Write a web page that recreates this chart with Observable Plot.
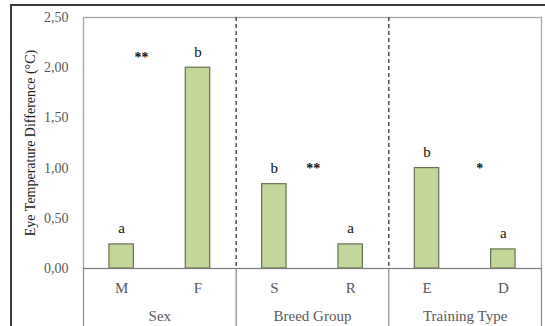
<!DOCTYPE html>
<html>
<head>
<meta charset="utf-8">
<script src="https://cdn.jsdelivr.net/npm/d3@7"></script>
<script src="https://cdn.jsdelivr.net/npm/@observablehq/plot@0.6"></script>
<style>
  html, body { margin: 0; padding: 0; background: #fff; }
  #wrap { position: relative; width: 545px; height: 326px; overflow: hidden; }
  #outer { position: absolute; left: 10px; top: 4px; right: -4px; bottom: -4px; border-top: 2px solid #3a3a3a; border-left: 2px solid #3a3a3a; }
  #chart { position: absolute; left: 0; top: 0; }
</style>
</head>
<body>
<div id="wrap"><div id="outer"></div><div id="chart"></div></div>
<script>
// Data
const categories = ["M", "F", "S", "R", "E", "D"];
const values = [0.24, 2.0, 0.84, 0.24, 1.0, 0.19];
const letters = ["a", "b", "b", "a", "b", "a"];
const groups = ["Sex", "Breed Group", "Training Type"];
const groupBounds = [2, 4];
const stars = ["**", "**", "*"];
const starX = [0.76, 3.01, 5.19];
const starY = [2.1, 1.0, 1.0];
const yTicks = [0, 0.5, 1.0, 1.5, 2.0, 2.5];
const yTitle = "Eye Temperature Difference (°C)";

const bars = categories.map((c, i) => ({cat: c, pos: i + 0.5, value: values[i], letter: letters[i]}));
const groupData = groups.map((g, i) => ({name: g, pos: i * 2 + 1}));
const starData = stars.map((s, i) => ({label: s, x: starX[i], y: starY[i]}));
const half = 0.16;

const font = "'Liberation Serif', 'Times New Roman', serif";

const chart = Plot.plot({
  width: 545,
  height: 326,
  marginLeft: 83,
  marginRight: 4,
  marginTop: 17,
  marginBottom: 58,
  style: {fontFamily: font, background: "transparent", overflow: "visible"},
  x: {domain: [0, 6], axis: null},
  y: {domain: [0, 2.5], axis: null},
  marks: [
    Plot.frame({stroke: "#a6a6a6", strokeWidth: 1.3}),
    Plot.ruleX(groupBounds, {stroke: "#333", strokeDasharray: "4,3", strokeWidth: 1.3}),
    Plot.ruleX([0, ...groupBounds, 6], {stroke: "#8a8a8a", strokeWidth: 1.2, insetTop: 251, insetBottom: -60}),
    Plot.rectY(bars, {x1: d => d.pos - half, x2: d => d.pos + half, y: "value", fill: "#c4d79b", stroke: "#66704f", strokeWidth: 1.2}),
    Plot.ruleY([0], {stroke: "#7a7a7a", strokeWidth: 1.2}),
    Plot.text(yTicks, {x: 0, y: d => d, text: d => d.toFixed(2).replace(".", ","), textAnchor: "end", dx: -15, fill: "#595959", fontSize: 14}),
    Plot.text(bars, {x: "pos", y: "value", text: "letter", dy: -16, lineAnchor: "middle", fill: "#111", fontSize: 15}),
    Plot.text(starData, {x: "x", y: "y", text: "label", lineAnchor: "middle", fill: "#111", fontSize: 14, fontWeight: "bold"}),
    Plot.text(bars, {x: "pos", frameAnchor: "bottom", text: "cat", dy: 20, lineAnchor: "middle", fill: "#595959", fontSize: 15}),
    Plot.text(groupData, {x: "pos", frameAnchor: "bottom", text: "name", dy: 48, lineAnchor: "middle", fill: "#595959", fontSize: 15}),
    Plot.text([yTitle], {frameAnchor: "left", rotate: -90, dx: -53, textAnchor: "middle", lineAnchor: "middle", fill: "#222", fontSize: 14})
  ]
});
document.getElementById("chart").appendChild(chart);
</script>
</body>
</html>
